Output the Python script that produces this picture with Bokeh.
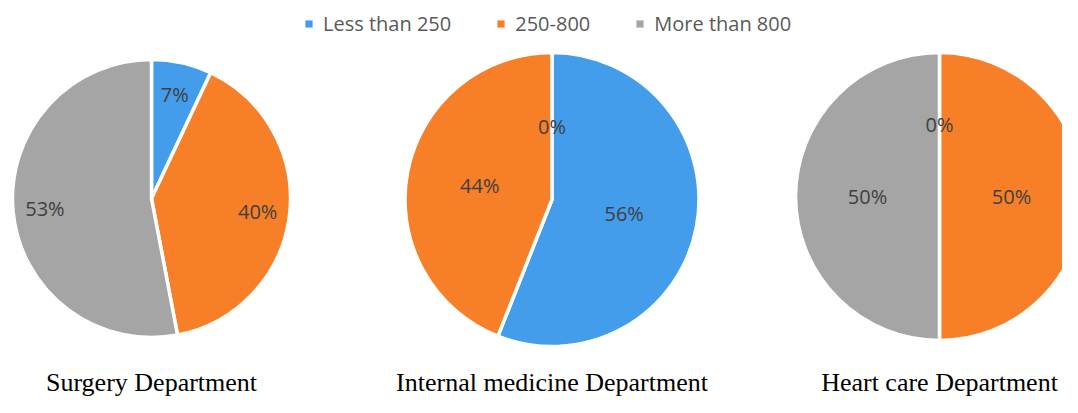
import math
from bokeh.plotting import figure
from bokeh.models import ColumnDataSource, Range1d, Legend, LegendItem
from bokeh.core.properties import value
from bokeh.embed import file_html
from bokeh.resources import INLINE

# ---- data ----
categories = ["Less than 250", "250-800", "More than 800"]
departments = ["Surgery Department", "Internal medicine Department", "Heart care Department"]
surgery = [7, 40, 53]
internal_medicine = [56, 44, 0]
heart_care = [0, 50, 50]
series = [surgery, internal_medicine, heart_care]

# ---- style / layout ----
colors = ["#439DEB", "#F67F27", "#A5A5A5"]
W, H = 1062, 397
centers_x = [151, 551.5, 939]
centers_y = [198, 199, 196]       # picture y (from top)
radii = [139, 147, 144]
label_frac = [0.77, 0.5, 0.5]
title_center = 382                # picture y (middle of text)

p = figure(width=W, height=H, x_range=Range1d(0, W), y_range=Range1d(0, H),
           output_backend="svg", toolbar_location=None, min_border=0)
p.axis.visible = False
p.grid.visible = False
p.outline_line_color = None
p.background_fill_color = "white"
p.border_fill_color = "white"

def py(pic_y):
    return H - pic_y

for k, vals in enumerate(series):
    total = float(sum(vals))
    cx, cy, r = centers_x[k], py(centers_y[k]), radii[k]
    wd = dict(x=[], y=[], start=[], end=[], color=[])
    ld = dict(x=[], y=[], text=[])
    cum = 0.0
    for v, col in zip(vals, colors):
        a0 = cum / total
        cum += v
        a1 = cum / total
        if v > 0:
            wd["x"].append(cx)
            wd["y"].append(cy)
            wd["start"].append(math.pi / 2 - 2 * math.pi * a1)
            wd["end"].append(math.pi / 2 - 2 * math.pi * a0)
            wd["color"].append(col)
        th = 2 * math.pi * (a0 + a1) / 2
        lr = label_frac[k] * r
        ld["x"].append(cx + lr * math.sin(th))
        ld["y"].append(cy + lr * math.cos(th))
        ld["text"].append(f"{v}%")
    p.wedge(x="x", y="y", radius=r, start_angle="start", end_angle="end",
            fill_color="color", line_color="white", line_width=3.5,
            source=ColumnDataSource(wd))
    p.text(x="x", y="y", text="text", source=ColumnDataSource(ld),
           text_font=value("Open Sans"), text_font_size="20px",
           text_color="#404040", text_align="center", text_baseline="middle")

p.text(x=centers_x, y=[py(title_center)] * 3, text=departments,
       text_font=value("Liberation Serif"), text_font_size="26px",
       text_color="black", text_align="center", text_baseline="middle")

items = []
for cat, col in zip(categories, colors):
    rr = p.rect(x=[centers_x[0]], y=[py(centers_y[0])], width=0, height=0,
                fill_color=col, line_color=None)
    items.append(LegendItem(label=cat, renderers=[rr]))
legend = Legend(items=items, orientation="horizontal", location=(304, 360),
                glyph_width=9, glyph_height=9, label_standoff=10, spacing=45,
                padding=0, margin=0, border_line_color=None, background_fill_alpha=0,
                label_text_font="Open Sans", label_text_font_size="20px",
                label_text_color="#595959")
p.add_layout(legend, "center")

open("out.html", "w").write(file_html(p, INLINE))
